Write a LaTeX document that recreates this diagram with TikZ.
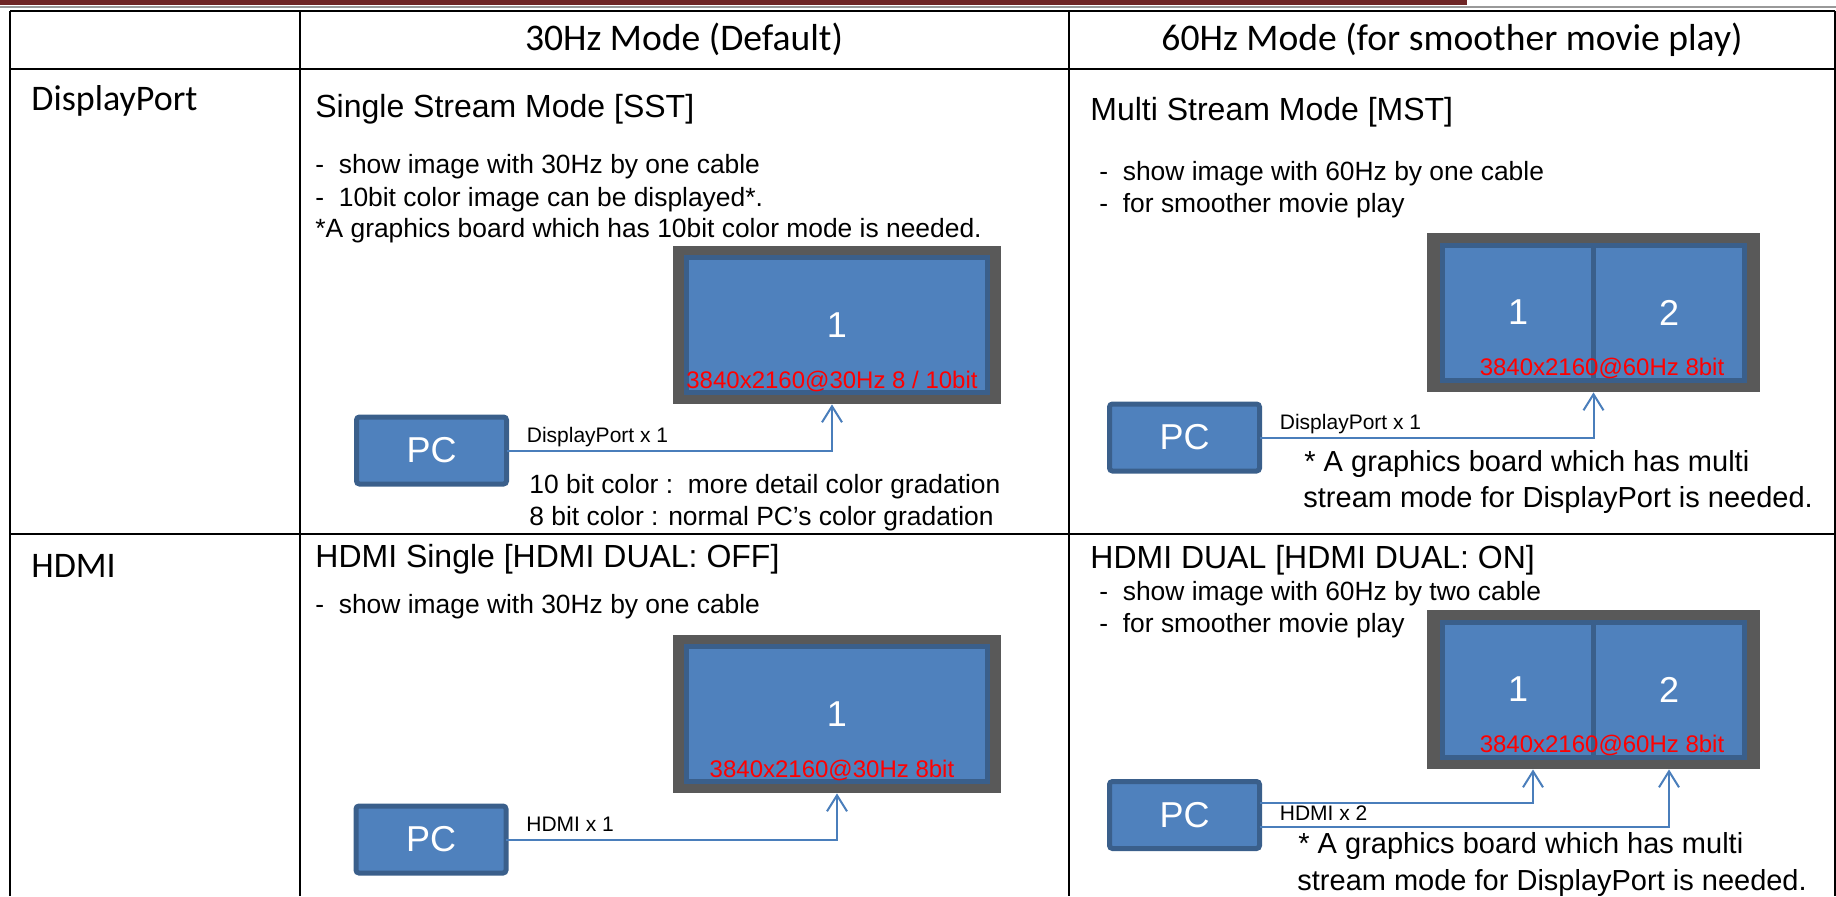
\documentclass[tikz,border=0pt]{standalone}
\usepackage{fontspec}
\setmainfont{Liberation Sans}
\newfontfamily\calib{Carlito}
\usetikzlibrary{positioning,arrows.meta}

\definecolor{barred}{HTML}{6E2525}
\definecolor{framegray}{HTML}{595959}
\definecolor{scrblue}{HTML}{4F81BD}
\definecolor{scredge}{HTML}{3A5F8B}
\definecolor{cableblue}{HTML}{4A7EBB}

\tikzset{
  hdr/.style={anchor=base,inner sep=0pt,font=\calib\fontsize{18.8}{22}\selectfont},
  rowlbl/.style={hdr,anchor=base west,font=\calib\fontsize{18}{22}\selectfont},
  title/.style={anchor=base west,inner sep=0pt,font=\fontsize{16}{19}\selectfont},
  txt/.style={anchor=base west,inner sep=0pt,font=\fontsize{13.2}{16}\selectfont},
  note/.style={anchor=base west,inner sep=0pt,font=\fontsize{14.5}{18}\selectfont},
  lbl/.style={anchor=base west,inner sep=0pt,font=\fontsize{10.5}{12}\selectfont},
  res/.style={anchor=base,inner sep=0pt,text=red,font=\fontsize{12}{14}\selectfont},
  monitor/.style={fill=framegray,inner sep=0pt,minimum width=164pt,minimum height=79pt},
  screen/.style={fill=scrblue,draw=scredge,line width=2.5pt,inner sep=0pt,outer sep=0pt,
    text=white,font=\fontsize{18}{22}\selectfont,minimum width=150.5pt,minimum height=67.5pt},
  half/.style={screen,minimum width=75.5pt},
  pcbox/.style={screen,rounded corners=1.5pt,minimum width=75pt,minimum height=33.5pt},
  cable/.style={->,draw=cableblue,line width=1pt}
}

\begin{document}
\begin{tikzpicture}[x=0.5pt,y=-0.5pt,>={Straight Barb[length=8pt,width=10pt]}]
\useasboundingbox (0,0) rectangle (1836,896);
% top bar and table
\fill[barred] (0,0) rectangle (1467,4.5);
\draw[black!40,line width=0.7pt] (0,7) -- (1836,7);
\draw[line width=1pt] (10,10.5) -- (1835,10.5) (10,69) -- (1835,69) (10,534) -- (1835,534)
  (10,10.5) -- (10,896) (299.5,10.5) -- (299.5,896) (1069,10.5) -- (1069,896) (1835,10.5) -- (1835,896);
\node[hdr] (h30) at (684,50) {30Hz Mode (Default)};
\node[hdr] (h60) at (1452,50) {60Hz Mode (for smoother movie play)};
\node[rowlbl] (rdp) at (31,110) {DisplayPort};
\node[rowlbl] (rhdmi) at (31,577) {HDMI};

% DisplayPort, 30Hz
\node[title] (t1) at (315,117) {Single Stream Mode [SST]};
\node[txt] (t1a) at (315,173) {-\ \ show image with 30Hz by one cable};
\node[txt] (t1b) at (315,206) {-\ \ 10bit color image can be displayed*.};
\node[txt] (t1c) at (315,237) {*A graphics board which has 10bit color mode is needed.};
\node[monitor] (mon1) at (837,325) {};
\node[screen] (scr1) at (mon1) {1};
\node[res] (res1) at ([xshift=-2.5pt,yshift=2.25pt]scr1.south) {3840x2160@30Hz 8 / 10bit};
\node[pcbox] (pc1) at (431.5,450.5) {PC};
\draw[cable] (pc1.east) -| ([xshift=-2.5pt]mon1.south);
\node[lbl] (c1) at ([xshift=10pt,yshift=4pt]pc1.east) {DisplayPort x 1};
\node[txt] (n1a) at (529,493) {10 bit color :\ \ more detail color gradation};
\node[txt] (n1b) at (529,525) {8 bit color : normal PC’s color gradation};

% DisplayPort, 60Hz
\node[title] (t2) at (1090,120) {Multi Stream Mode [MST]};
\node[txt] (t2a) at (1099,180) {-\ \ show image with 60Hz by one cable};
\node[txt] (t2b) at (1099,212) {-\ \ for smoother movie play};
\node[monitor,minimum width=166.5pt,minimum height=79.5pt] (mon2) at (1593.5,312.5) {};
\node[half,left=0pt of mon2.center] (p2a) {1};
\node[half,right=0pt of mon2.center] (p2b) {2};
\node[res] (res2) at ([xshift=4.25pt,yshift=2.25pt]p2a.south east) {3840x2160@60Hz 8bit};
\node[pcbox] (pc2) at (1184.5,437.5) {PC};
\draw[cable] (pc2.east) -| (mon2.south);
\node[lbl] (c2) at ([xshift=10pt,yshift=4pt]pc2.east) {DisplayPort x 1};
\node[note] (n2a) at (1304,471) {* A graphics board which has multi};
\node[note] (n2b) at (1303,507) {stream mode for DisplayPort is needed.};

% HDMI, 30Hz
\node[title] (t3) at (315,567) {HDMI Single [HDMI DUAL: OFF]};
\node[txt] (t3a) at (315,613) {-\ \ show image with 30Hz by one cable};
\node[monitor] (mon3) at (837,714) {};
\node[screen] (scr3) at (mon3) {1};
\node[res] (res3) at ([xshift=-2.5pt,yshift=2.25pt]scr3.south) {3840x2160@30Hz 8bit};
\node[pcbox] (pc3) at (431,839.5) {PC};
\draw[cable] (pc3.east) -| (mon3.south);
\node[lbl] (c3) at ([xshift=10pt,yshift=4pt]pc3.east) {HDMI x 1};

% HDMI, 60Hz
\node[title] (t4) at (1090,568) {HDMI DUAL [HDMI DUAL: ON]};
\node[txt] (t4a) at (1099,600) {-\ \ show image with 60Hz by two cable};
\node[txt] (t4b) at (1099,632) {-\ \ for smoother movie play};
\node[monitor,minimum width=166.5pt,minimum height=79.5pt] (mon4) at (1593.5,689.5) {};
\node[half,left=0pt of mon4.center] (p4a) {1};
\node[half,right=0pt of mon4.center] (p4b) {2};
\node[res] (res4) at ([xshift=4.25pt,yshift=2.25pt]p4a.south east) {3840x2160@60Hz 8bit};
\node[pcbox] (pc4) at (1184.5,815) {PC};
\draw[cable] ([yshift=6pt]pc4.east) -| ([xshift=-30.25pt]mon4.south);
\draw[cable] ([yshift=-6pt]pc4.east) -| ([xshift=37.75pt]mon4.south);
\node[lbl] (c4) at ([xshift=10pt,yshift=-2.5pt]pc4.east) {HDMI x 2};
\node[note] (n4a) at (1298,853) {* A graphics board which has multi};
\node[note] (n4b) at (1297,890) {stream mode for DisplayPort is needed.};
\end{tikzpicture}
\end{document}
